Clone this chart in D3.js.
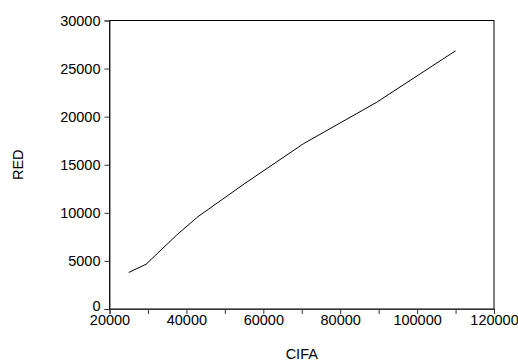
<!DOCTYPE html>
<html>
<head>
<meta charset="utf-8">
<script src="https://cdn.jsdelivr.net/npm/d3@7"></script>
<style>
  body { margin: 0; background: #fff; }
  svg { display: block; }
  text { font-family: "Liberation Sans", Arial, sans-serif; fill: #000; }
</style>
</head>
<body>
<svg id="chart" width="518" height="362"></svg>
<script>
// Data
const cifa = [25000, 29500, 37500, 43000, 55000, 70500, 89500, 110000];
const red  = [3800, 4650, 7700, 9600, 13000, 17200, 21500, 26850];
const xTickValues = [20000, 30000, 40000, 50000, 60000, 70000, 80000, 90000, 100000, 110000, 120000];
const xTickLabels = [20000, 40000, 60000, 80000, 100000, 120000];
const yTickValues = [0, 5000, 10000, 15000, 20000, 25000, 30000];
const xTitle = "CIFA";
const yTitle = "RED";

const svg = d3.select("#chart");
const m = { left: 109.5, right: 494, top: 20.5, bottom: 309 };

const x = d3.scaleLinear().domain([20000, 120000]).range([m.left, m.right]);
const y = d3.scaleLinear().domain([0, 30000]).range([m.bottom, m.top]);

// frame
svg.append("rect")
  .attr("x", m.left).attr("y", m.top)
  .attr("width", m.right - m.left).attr("height", m.bottom - m.top)
  .attr("fill", "none").attr("stroke", "#000").attr("stroke-width", 1);

// x axis
const xAxis = d3.axisBottom(x)
  .tickValues(xTickValues)
  .tickSize(5)
  .tickPadding(1)
  .tickFormat(d => xTickLabels.includes(d) ? String(d) : "");
const gx = svg.append("g").attr("transform", `translate(0,${m.bottom})`).call(xAxis);
gx.select(".domain").attr("stroke", "#333");
gx.selectAll(".tick line").attr("stroke", "#333");
gx.selectAll(".tick text")
  .style("font-family", '"Liberation Sans", Arial, sans-serif')
  .style("font-size", "14.5px").attr("fill", "#000");

// y axis
const yAxis = d3.axisLeft(y)
  .tickValues(yTickValues)
  .tickSize(5)
  .tickPadding(4)
  .tickFormat(d => String(d));
const gy = svg.append("g").attr("transform", `translate(${m.left},0)`).call(yAxis);
gy.select(".domain").attr("stroke", "#333");
gy.selectAll(".tick line").attr("stroke", "#333");
gy.selectAll(".tick text")
  .style("font-family", '"Liberation Sans", Arial, sans-serif')
  .style("font-size", "14.5px").attr("fill", "#000")
  .attr("dy", d => d === 0 ? "0.12em" : "0.32em");

// line
const pts = cifa.map((c, i) => [c, red[i]]);
svg.append("path")
  .datum(pts)
  .attr("fill", "none")
  .attr("stroke", "#000")
  .attr("stroke-width", 1)
  .attr("d", d3.line().x(d => x(d[0])).y(d => y(d[1])));

// titles
svg.append("text")
  .attr("x", (m.left + m.right) / 2).attr("y", 359)
  .attr("text-anchor", "middle")
  .style("font-size", "14.5px")
  .text(xTitle);

svg.append("text")
  .attr("transform", `translate(23,${(m.top + m.bottom) / 2}) rotate(-90)`)
  .attr("text-anchor", "middle")
  .style("font-size", "14.5px")
  .text(yTitle);
</script>
</body>
</html>
